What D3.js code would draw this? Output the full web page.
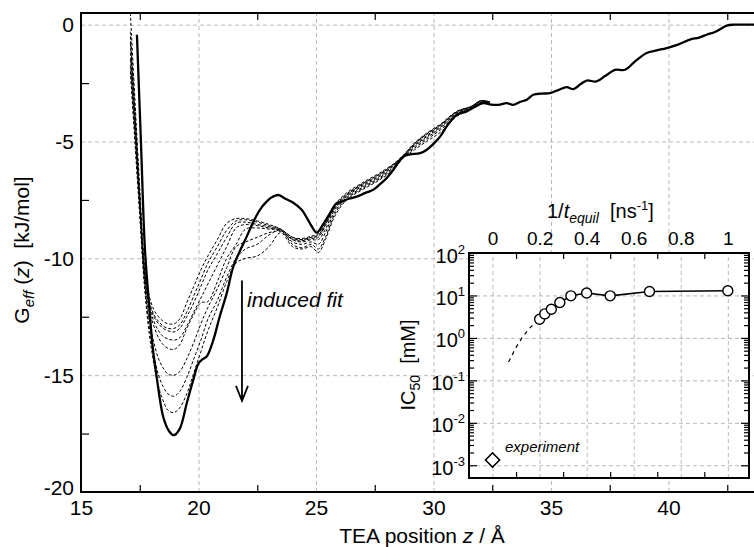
<!DOCTYPE html>
<html>
<head>
<meta charset="utf-8">
<script src="https://cdn.jsdelivr.net/npm/d3@7"></script>
<style>
body { margin: 0; background: #fff; }
text { font-family: "Liberation Sans", Arial, sans-serif; fill: #000; white-space: pre; }
</style>
</head>
<body>
<script>
var width = 754,
    height = 547;

// ---- main free energy profile (final, thick line)
var zMain = [17.38, 17.55, 17.72, 17.9, 18.05, 18.22, 18.5, 18.75, 18.95, 19.2, 19.5, 19.75, 20.0, 20.2, 20.35,
  20.63, 20.9, 21.2, 21.48, 21.8, 22.05, 22.4, 22.7, 22.9, 23.1, 23.4, 23.7, 24.0, 24.4, 24.6, 24.8, 25.03,
  25.3, 25.6, 25.88, 26.1, 26.4, 26.73, 27.1, 27.43, 27.7, 28.0, 28.3, 28.72, 29.0, 29.43, 29.7, 30.0, 30.28,
  30.6, 30.99, 31.41, 31.8, 32.12, 32.45, 32.76, 33.11, 33.4, 33.7, 33.97, 34.25, 34.6, 34.96, 35.3, 35.67,
  35.95, 36.25, 36.52, 36.94, 37.3, 37.72, 38.15, 38.6, 39.07, 39.5, 39.92, 40.4, 40.91, 41.3, 41.62, 42.0,
  42.48, 42.8, 43.18, 43.64];
var gMain = [-0.43, -5.0, -9.6, -12.0, -13.8, -15.07, -16.79, -17.4, -17.57, -17.3, -16.2, -15.3, -14.5, -14.3, -14.2,
  -13.5, -12.5, -11.5, -10.36, -9.6, -9.07, -8.3, -7.8, -7.57, -7.4, -7.29, -7.45, -7.6, -7.93, -8.25, -8.6, -8.9,
  -8.55, -8.06, -7.64, -7.57, -7.45, -7.36, -7.2, -7.07, -6.85, -6.57, -6.2, -5.64, -5.55, -5.5, -5.36, -5.1, -4.79,
  -4.3, -3.86, -3.71, -3.5, -3.36, -3.42, -3.43, -3.36, -3.43, -3.3, -3.21, -3.0, -2.95, -2.93, -2.8, -2.67,
  -2.76, -2.55, -2.39, -2.43, -2.2, -1.93, -1.93, -1.55, -1.21, -1.1, -1.0, -0.85, -0.64, -0.55, -0.43, -0.3,
  -0.04, 0.0, 0.0, 0.0];

// ---- shorter equilibration runs (thin dashed lines)
var zFit = [17.1, 17.3, 17.5, 17.7, 17.9, 18.1, 18.3, 18.5, 18.7, 18.95, 19.2, 19.5, 19.8, 20.1, 20.4, 20.8, 21.2,
  21.6, 22.0, 22.5, 23.0, 23.5, 24.0, 24.4, 24.8, 25.1, 25.4, 25.8, 26.3, 27.0, 27.7, 28.3, 28.7, 29.2, 29.7,
  30.3, 31.0, 31.6, 32.0, 32.4];
var run1 = [0.5, -3.3, -7.0, -10.2, -11.6, -12.2, -12.5, -12.7, -12.8, -12.8, -12.6, -11.9, -11.2, -10.5, -9.9, -9.2,
  -8.5, -8.3, -8.3, -8.4, -8.55, -8.75, -9.1, -9.15, -9.05, -8.95, -8.4, -7.7, -7.2, -6.75, -6.35, -5.95, -5.6,
  -5.05, -4.65, -4.25, -3.7, -3.5, -3.25, -3.3];
var run2 = [-0.3, -3.8, -7.3, -10.4, -11.8, -12.4, -12.7, -12.9, -13.0, -13.0, -12.85, -12.3, -11.6, -10.9, -10.2, -9.5,
  -8.8, -8.4, -8.35, -8.45, -8.6, -8.75, -9.1, -9.2, -9.1, -9.0, -8.5, -7.75, -7.25, -6.8, -6.4, -5.98, -5.62,
  -5.08, -4.68, -4.28, -3.72, -3.5, -3.26, -3.3];
var run3 = [-0.8, -4.0, -7.4, -10.5, -11.9, -12.5, -12.8, -13.0, -13.1, -13.15, -13.0, -12.5, -11.9, -11.2, -10.5, -9.8,
  -9.1, -8.5, -8.45, -8.55, -8.65, -8.8, -9.15, -9.2, -9.1, -9.05, -8.55, -7.8, -7.3, -6.8, -6.4, -6.0, -5.63,
  -5.1, -4.7, -4.3, -3.74, -3.52, -3.27, -3.32];
var run4 = [-1.2, -4.3, -7.6, -10.6, -12.0, -12.7, -13.1, -13.35, -13.45, -13.5, -13.4, -12.9, -12.3, -11.7, -11.1, -10.3,
  -9.5, -8.7, -8.55, -8.6, -8.7, -8.8, -9.2, -9.25, -9.15, -9.1, -8.6, -7.85, -7.3, -6.85, -6.45, -6.02, -5.64,
  -5.13, -4.75, -4.33, -3.76, -3.53, -3.28, -3.32];
var run5 = [-0.5, -3.9, -7.4, -10.6, -12.2, -12.9, -13.4, -13.7, -13.85, -13.9, -13.7, -13.0, -12.4, -11.9, -11.85, -11.0,
  -10.0, -9.4, -8.75, -8.7, -8.75, -8.8, -9.2, -9.3, -9.2, -9.2, -8.75, -7.9, -7.35, -6.9, -6.5, -6.05, -5.65,
  -5.17, -4.8, -4.38, -3.8, -3.55, -3.3, -3.34];
var run6 = [-1.5, -4.6, -7.8, -10.9, -12.6, -13.6, -14.3, -14.7, -14.95, -15.0, -14.85, -14.3, -13.6, -12.8, -12.1, -11.3,
  -10.4, -9.5, -9.3, -9.1, -8.9, -8.85, -9.3, -9.4, -9.3, -9.4, -8.9, -8.0, -7.4, -6.95, -6.55, -6.1, -5.67,
  -5.22, -4.85, -4.43, -3.83, -3.57, -3.32, -3.35];
var run7 = [-1.8, -4.9, -8.0, -11.0, -12.9, -14.1, -15.0, -15.5, -15.8, -15.9, -15.7, -15.1, -14.3, -13.5, -12.6, -11.8,
  -10.8, -10.0, -9.6, -9.4, -9.0, -8.8, -9.4, -9.55, -9.4, -9.6, -9.1, -8.1, -7.45, -7.0, -6.6, -6.15, -5.7,
  -5.28, -4.92, -4.5, -3.88, -3.6, -3.34, -3.36];
var run8 = [-2.0, -5.1, -8.2, -11.2, -13.2, -14.5, -15.5, -16.1, -16.5, -16.6, -16.4, -15.8, -14.9, -14.0, -13.1, -12.1,
  -11.0, -10.2, -10.0, -9.9, -9.5, -8.9, -9.5, -9.6, -9.5, -9.75, -9.2, -8.2, -7.5, -7.05, -6.65, -6.2, -5.72,
  -5.35, -5.0, -4.6, -3.92, -3.62, -3.36, -3.38];
var fitRuns = [run1, run2, run3, run4, run5, run6, run7, run8];

// ---- inset: IC50 vs 1/t_equil
var invT = [0.2, 0.222, 0.25, 0.286, 0.333, 0.4, 0.5, 0.667, 1.0];
var ic50 = [2.76, 3.68, 4.75, 6.8, 9.8, 11.4, 9.8, 12.4, 12.9];
var extrapT = [0.068, 0.1, 0.13, 0.16, 0.2];
var extrapIC = [0.27, 0.6, 1.1, 1.75, 2.76];
var expT = [0],
    expIC = [0.00133];

// ---- tick values
var xMajor = [15, 20, 25, 30, 35, 40, 45],
    xMinor = [17.5, 22.5, 27.5, 32.5, 37.5, 42.5],
    yMajor = [0, -5, -10, -15, -20],
    yMinor = [-2.5, -7.5, -12.5, -17.5];
var insetXMajor = [0, 0.2, 0.4, 0.6, 0.8, 1],
    insetXMinor = [0.1, 0.3, 0.5, 0.7, 0.9],
    insetDecades = [1e-3, 1e-2, 1e-1, 1e0, 1e1, 1e2];

var svg = d3.select("body").append("svg")
    .attr("width", width)
    .attr("height", height);

var x = d3.scaleLinear().domain([15, 45]).range([81, 786]);
var y = d3.scaleLinear().domain([-20, 0.5]).range([492, 13]);

var gridColor = "#b8b8b8";

function styleGrid(sel)
{
  sel.select(".domain").remove();
  sel.selectAll(".tick line")
    .attr("stroke", gridColor)
    .attr("stroke-width", 1)
    .attr("stroke-dasharray", "4,3");
}

function styleTicks(sel)
{
  sel.select(".domain").remove();
  sel.selectAll(".tick line").attr("stroke", "#000").attr("stroke-width", 1.2);
}

// grid
svg.append("g")
    .attr("transform", "translate(0," + y(-20) + ")")
    .call(d3.axisBottom(x).tickValues(xMajor.slice(1)).tickSize(-(y(-20) - y(0.5))).tickFormat(""))
    .call(styleGrid);

svg.append("g")
    .attr("transform", "translate(" + x(15) + ",0)")
    .call(d3.axisLeft(y).tickValues([0, -5, -10, -15]).tickSize(-(x(45) - x(15))).tickFormat(""))
    .call(styleGrid);

// minor ticks, inward
svg.append("g")
    .attr("transform", "translate(0," + y(-20) + ")")
    .call(d3.axisBottom(x).tickValues(xMinor).tickSize(-7).tickFormat(""))
    .call(styleTicks);
svg.append("g")
    .attr("transform", "translate(0," + y(0.5) + ")")
    .call(d3.axisTop(x).tickValues(xMinor).tickSize(-7).tickFormat(""))
    .call(styleTicks);
svg.append("g")
    .attr("transform", "translate(" + x(15) + ",0)")
    .call(d3.axisLeft(y).tickValues(yMinor).tickSize(-8).tickFormat(""))
    .call(styleTicks);

// curves
svg.append("clipPath").attr("id", "plotclip")
  .append("rect")
    .attr("x", x(15)).attr("y", y(0.5))
    .attr("width", x(45) - x(15)).attr("height", y(-20) - y(0.5));

var curves = svg.append("g").attr("clip-path", "url(#plotclip)");

var line = d3.line()
    .x(function(d){ return x(d[0]); })
    .y(function(d){ return y(d[1]); })
    .curve(d3.curveCatmullRom.alpha(0.5));

curves.selectAll("path.fit")
  .data(fitRuns)
  .enter().append("path")
    .attr("class", "fit")
    .attr("d", function(run){ return line(run.map(function(g, i){ return [zFit[i], g]; })); })
    .attr("fill", "none")
    .attr("stroke", "#000")
    .attr("stroke-width", 1)
    .attr("stroke-dasharray", "3,2");

curves.append("path")
    .attr("d", line(zMain.map(function(z, i){ return [z, gMain[i]]; })))
    .attr("fill", "none")
    .attr("stroke", "#000")
    .attr("stroke-width", 2.3)
    .attr("stroke-linejoin", "round");

// frame
svg.append("path")
    .attr("d", "M" + x(45) + "," + y(0.5) + "H" + x(15) + "V" + y(-20) + "H" + x(45))
    .attr("fill", "none")
    .attr("stroke", "#000")
    .attr("stroke-width", 2);

// tick labels
var fs = 21;
svg.append("g")
    .attr("transform", "translate(0," + y(-20) + ")")
    .call(d3.axisBottom(x).tickValues([15, 20, 25, 30, 35, 40]).tickSize(0).tickPadding(8))
    .call(function(g){ g.select(".domain").remove(); })
    .selectAll("text").attr("font-size", fs).attr("font-family", null);

svg.append("g")
    .attr("transform", "translate(" + x(15) + ",0)")
    .call(d3.axisLeft(y).tickValues(yMajor).tickSize(0).tickPadding(7).tickFormat(d3.format("d")))
    .call(function(g){ g.select(".domain").remove(); })
    .selectAll("text").attr("font-size", fs).attr("font-family", null)
    .text(function(d){ return String(d).replace("\u2212", "-"); })
    .attr("dy", function(d){ return d == -20 ? "0.1em" : "0.34em"; });

// axis titles
var xt = svg.append("text")
    .attr("x", 422).attr("y", 543)
    .attr("text-anchor", "middle")
    .attr("font-size", 21);
xt.append("tspan").text("TEA position ");
xt.append("tspan").attr("font-style", "italic").text("z");
xt.append("tspan").text(" / \u00c5");

var yt = svg.append("text")
    .attr("transform", "translate(29,250) rotate(-90)")
    .attr("text-anchor", "middle")
    .attr("font-size", 21);
yt.append("tspan").text("G");
yt.append("tspan").attr("font-style", "italic").attr("font-size", 15).attr("dy", 5).text("eff");
yt.append("tspan").attr("dy", -5).text(" (");
yt.append("tspan").attr("font-style", "italic").text("z");
yt.append("tspan").text(")  [kJ/mol]");

// induced fit annotation
svg.append("path")
    .attr("d", "M" + x(21.85) + "," + y(-10.95) + "V" + y(-16.1)
      + "M" + (x(21.85) - 6) + "," + (y(-16.1) - 15) + "L" + x(21.85) + "," + y(-16.1)
      + "L" + (x(21.85) + 6) + "," + (y(-16.1) - 15))
    .attr("fill", "none")
    .attr("stroke", "#000")
    .attr("stroke-width", 1.8);

svg.append("text")
    .attr("x", 247).attr("y", 307)
    .attr("font-size", 21)
    .attr("font-style", "italic")
    .text("induced fit");

// ---------------- inset
var ix = d3.scaleLinear().domain([-0.1, 1.09]).range([469, 749]);
var iy = d3.scaleLog().domain([Math.pow(10, -3.3), 100]).range([478, 253]);

var inset = svg.append("g");

inset.append("rect")
    .attr("x", ix(-0.1)).attr("y", iy(100))
    .attr("width", ix(1.09) - ix(-0.1)).attr("height", iy(Math.pow(10, -3.3)) - iy(100))
    .attr("fill", "#fff");

inset.append("g")
    .attr("transform", "translate(0," + iy(Math.pow(10, -3.3)) + ")")
    .call(d3.axisBottom(ix).tickValues(insetXMajor).tickSize(-(iy(Math.pow(10, -3.3)) - iy(100))).tickFormat(""))
    .call(styleGrid);
inset.append("g")
    .attr("transform", "translate(" + ix(-0.1) + ",0)")
    .call(d3.axisLeft(iy).tickValues(insetDecades.slice(0, 5)).tickSize(-(ix(1.09) - ix(-0.1))).tickFormat(""))
    .call(styleGrid);

// minor ticks on inset
var logMinor = [];
insetDecades.forEach(function(dec){
  [2, 3, 4, 5, 6, 7, 8, 9].forEach(function(m){
    if(dec * m > Math.pow(10, -3.3) && dec * m < 100) logMinor.push(dec * m);
  });
});

inset.append("g")
    .attr("transform", "translate(0," + iy(Math.pow(10, -3.3)) + ")")
    .call(d3.axisBottom(ix).tickValues(insetXMinor).tickSize(-6).tickFormat(""))
    .call(styleTicks);
inset.append("g")
    .attr("transform", "translate(0," + iy(100) + ")")
    .call(d3.axisTop(ix).tickValues(insetXMinor).tickSize(-6).tickFormat(""))
    .call(styleTicks);
inset.append("g")
    .attr("transform", "translate(" + ix(-0.1) + ",0)")
    .call(d3.axisLeft(iy).tickValues(logMinor).tickSize(-5).tickFormat(""))
    .call(styleTicks);
inset.append("g")
    .attr("transform", "translate(" + ix(-0.1) + ",0)")
    .call(d3.axisLeft(iy).tickValues(insetDecades).tickSize(-8).tickFormat(""))
    .call(styleTicks);
inset.append("g")
    .attr("transform", "translate(" + ix(1.09) + ",0)")
    .call(d3.axisRight(iy).tickValues(logMinor).tickSize(-5).tickFormat(""))
    .call(styleTicks);
inset.append("g")
    .attr("transform", "translate(" + ix(1.09) + ",0)")
    .call(d3.axisRight(iy).tickValues(insetDecades).tickSize(-8).tickFormat(""))
    .call(styleTicks);

// data
var iline = d3.line()
    .x(function(d){ return ix(d[0]); })
    .y(function(d){ return iy(d[1]); });

inset.append("path")
    .attr("d", iline(extrapT.map(function(t, i){ return [t, extrapIC[i]]; })))
    .attr("fill", "none")
    .attr("stroke", "#000")
    .attr("stroke-width", 1.2)
    .attr("stroke-dasharray", "4,4");

var ipts = invT.map(function(t, i){ return [t, ic50[i]]; });
inset.append("path")
    .attr("d", iline(ipts))
    .attr("fill", "none")
    .attr("stroke", "#000")
    .attr("stroke-width", 1.6);

inset.selectAll("circle")
  .data(ipts)
  .enter().append("circle")
    .attr("cx", function(d){ return ix(d[0]); })
    .attr("cy", function(d){ return iy(d[1]); })
    .attr("r", 5)
    .attr("fill", "#fff")
    .attr("stroke", "#000")
    .attr("stroke-width", 1.4);

inset.selectAll("path.exp")
  .data(expT.map(function(t, i){ return [t, expIC[i]]; }))
  .enter().append("path")
    .attr("class", "exp")
    .attr("d", d3.symbol().type(d3.symbolSquare).size(100))
    .attr("transform", function(d){ return "translate(" + ix(d[0]) + "," + iy(d[1]) + ") rotate(45)"; })
    .attr("fill", "#fff")
    .attr("stroke", "#000")
    .attr("stroke-width", 1.5);

inset.append("text")
    .attr("x", 505).attr("y", 452)
    .attr("font-size", 15)
    .attr("font-style", "italic")
    .text("experiment");

// inset frame
inset.append("rect")
    .attr("x", ix(-0.1)).attr("y", iy(100))
    .attr("width", ix(1.09) - ix(-0.1)).attr("height", iy(Math.pow(10, -3.3)) - iy(100))
    .attr("fill", "none")
    .attr("stroke", "#000")
    .attr("stroke-width", 2);

// inset labels
inset.append("g")
    .attr("transform", "translate(0," + iy(100) + ")")
    .call(d3.axisTop(ix).tickValues(insetXMajor).tickSize(0).tickPadding(8).tickFormat(d3.format("~g")))
    .call(function(g){ g.select(".domain").remove(); })
    .selectAll("text").attr("font-size", 19).attr("font-family", null);

inset.append("g")
    .attr("transform", "translate(" + ix(-0.1) + ",0)")
    .call(d3.axisLeft(iy).tickValues(insetDecades).tickSize(0).tickPadding(4).tickFormat(function(){ return "10"; }))
    .call(function(g){ g.select(".domain").remove(); })
    .selectAll("text")
      .attr("font-size", 20).attr("font-family", null)
      .attr("dy", "0.45em")
      .each(function(d){
        d3.select(this).append("tspan")
          .attr("font-size", 13)
          .attr("dy", -9)
          .text(String(Math.round(Math.log10(d))));
      });

var it = inset.append("text")
    .attr("x", 547).attr("y", 218)
    .attr("font-size", 20);
it.append("tspan").text("1/");
it.append("tspan").attr("font-style", "italic").text("t");
it.append("tspan").attr("font-style", "italic").attr("font-size", 14).attr("dy", 5).text("equil");
it.append("tspan").attr("dy", -5).text("  [ns");
it.append("tspan").attr("font-size", 13).attr("dy", -8).text("-1");
it.append("tspan").attr("dy", 8).text("]");

var iyt = inset.append("text")
    .attr("transform", "translate(415,365) rotate(-90)")
    .attr("text-anchor", "middle")
    .attr("font-size", 20);
iyt.append("tspan").text("IC");
iyt.append("tspan").attr("font-size", 14).attr("dy", 5).text("50");
iyt.append("tspan").attr("dy", -5).text("  [mM]");
</script>
</body>
</html>
